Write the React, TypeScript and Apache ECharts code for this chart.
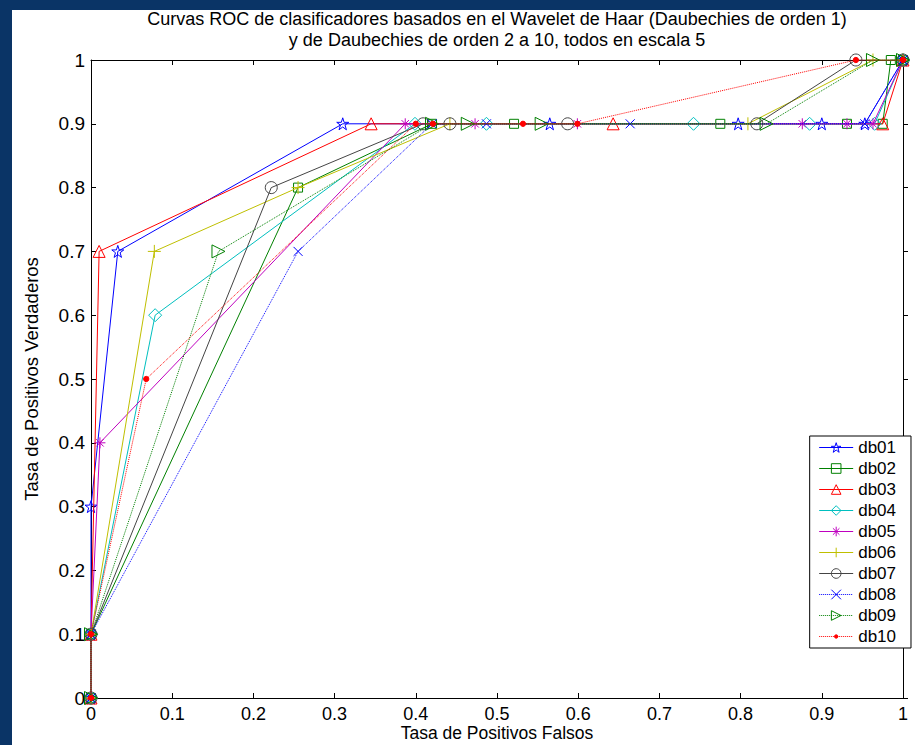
import React, { useEffect, useRef } from "react";
import * as echarts from "echarts";

const seriesNames = ["db01", "db02", "db03", "db04", "db05", "db06", "db07", "db08", "db09", "db10"];

const db01Fpr = [0, 0, 0, 0.033, 0.31, 0.565, 0.797, 0.9, 0.953, 1];
const db01Tpr = [0, 0.1, 0.3, 0.7, 0.9, 0.9, 0.9, 0.9, 0.9, 1];

const db02Fpr = [0, 0, 0.255, 0.42, 0.521, 0.775, 0.931, 0.975, 0.985, 1];
const db02Tpr = [0, 0.1, 0.8, 0.9, 0.9, 0.9, 0.9, 0.9, 1, 1];

const db03Fpr = [0, 0, 0.01, 0.345, 0.643, 0.975, 1];
const db03Tpr = [0, 0.1, 0.7, 0.9, 0.9, 0.9, 1];

const db04Fpr = [0, 0, 0.079, 0.399, 0.487, 0.742, 0.885, 0.965, 1];
const db04Tpr = [0, 0.1, 0.6, 0.9, 0.9, 0.9, 0.9, 0.9, 1];

const db05Fpr = [0, 0, 0.011, 0.387, 0.473, 0.599, 0.876, 0.931, 0.963, 1];
const db05Tpr = [0, 0.1, 0.4, 0.9, 0.9, 0.9, 0.9, 0.9, 0.9, 1];

const db06Fpr = [0, 0, 0.078, 0.255, 0.442, 0.809, 0.963, 1];
const db06Tpr = [0, 0.1, 0.7, 0.8, 0.9, 0.9, 1, 1];

const db07Fpr = [0, 0, 0.222, 0.409, 0.442, 0.587, 0.82, 0.942, 1];
const db07Tpr = [0, 0.1, 0.8, 0.9, 0.9, 0.9, 0.9, 1, 1];

const db08Fpr = [0, 0, 0.255, 0.42, 0.487, 0.664, 0.953, 1];
const db08Tpr = [0, 0.1, 0.7, 0.9, 0.9, 0.9, 0.9, 1];

const db09Fpr = [0, 0, 0.157, 0.42, 0.464, 0.555, 0.832, 0.963, 1];
const db09Tpr = [0, 0.1, 0.7, 0.9, 0.9, 0.9, 0.9, 1, 1];

const db10Fpr = [0, 0, 0.068, 0.4, 0.421, 0.532, 0.599, 0.942, 1];
const db10Tpr = [0, 0.1, 0.5, 0.9, 0.9, 0.9, 0.9, 1, 1];

const fprs = [db01Fpr, db02Fpr, db03Fpr, db04Fpr, db05Fpr, db06Fpr, db07Fpr, db08Fpr, db09Fpr, db10Fpr];
const tprs = [db01Tpr, db02Tpr, db03Tpr, db04Tpr, db05Tpr, db06Tpr, db07Tpr, db08Tpr, db09Tpr, db10Tpr];

const titleLines = [
  "Curvas ROC de clasificadores basados en el Wavelet de Haar (Daubechies de orden 1)",
  "y de Daubechies de orden 2 a 10, todos en escala 5",
];
const xAxisName = "Tasa de Positivos Falsos";
const yAxisName = "Tasa de Positivos Verdaderos";

const colors = ["#0000ff", "#008000", "#ff0000", "#00bfbf", "#bf00bf", "#bfbf00", "#444444", "#0000ff", "#008000", "#ff0000"];
const lineTypes = ["solid", "solid", "solid", "solid", "solid", "solid", "solid", "dotted", "dotted", "dotted"];

const STAR = "path://M50,2 L61,36 L97,36 L68,57 L79,92 L50,71 L21,92 L32,57 L3,36 L39,36 Z";
const PLUS = "path://M50,0L50,100M0,50L100,50";
const AST = "path://M50,0L50,100M0,50L100,50M16,16L84,84M84,16L16,84";
const XMARK = "path://M0,0L100,100M100,0L0,100";
const RTRI = "path://M0,0L100,50L0,100Z";
const DOT = "path://M0,0L0,0M100,100L100,100M68,50L63,63L50,68L37,63L32,50L37,37L50,32L63,37Z";
const symbols = [STAR, "rect", "triangle", "diamond", AST, PLUS, "circle", XMARK, RTRI, DOT];
const symbolSizes = [12, 9, 12, 13, 11, 13, 12, 9, 13, 15];

export default function App() {
  const ref = useRef<HTMLDivElement>(null);
  useEffect(() => {
    if (!ref.current) return;
    const chart = echarts.init(ref.current, undefined, { renderer: "svg" });
    const font = "Liberation Sans, Arial, sans-serif";
    const axisCommon = {
      type: "value" as const,
      min: 0,
      max: 1,
      interval: 0.1,
      splitLine: { show: false },
      axisLine: { show: true, onZero: false, lineStyle: { color: "#000", width: 1 } },
    };
    const itemStyleFor = (i: number) =>
      i === 9
        ? { color: colors[i], borderColor: colors[i], borderWidth: 1 }
        : { color: "rgba(255,255,255,0)", borderColor: colors[i], borderWidth: 1 };
    const series = seriesNames.map((name, i) => ({
      name,
      type: "line",
      xAxisIndex: 0,
      yAxisIndex: 0,
      data: fprs[i].map((x, j) => [x, tprs[i][j]]),
      symbol: symbols[i],
      symbolSize: symbolSizes[i],
      showAllSymbol: true,
      lineStyle: { color: colors[i], width: 1, type: lineTypes[i] },
      itemStyle: itemStyleFor(i),
      emphasis: { disabled: true },
      z: 2 + i,
    }));
    chart.setOption({
      animation: false,
      backgroundColor: "#ffffff",
      textStyle: { fontFamily: font },
      graphic: [
        { type: "rect", shape: { x: 0, y: 0, width: 915, height: 10 }, style: { fill: "#0a3466" }, z: -10, silent: true },
        { type: "rect", shape: { x: 0, y: 0, width: 12, height: 745 }, style: { fill: "#0a3466" }, z: -10, silent: true },
        {
          type: "text",
          x: 497,
          y: 8,
          style: {
            text: titleLines.join("\n"),
            fontSize: 18,
            fontFamily: font,
            fill: "#000",
            align: "center",
            lineHeight: 21,
          },
        },
      ],
      grid: { left: 91, right: 12, top: 60, bottom: 47, show: false, outerBoundsMode: "none", containLabel: false },
      legend: {
        orient: "vertical",
        right: 4,
        top: 436,
        data: seriesNames.map((name, i) => ({
          name,
          itemStyle: itemStyleFor(i),
          lineStyle: { color: colors[i], width: 1, type: lineTypes[i] },
        })),
        backgroundColor: "#ffffff",
        borderColor: "#000",
        borderWidth: 1,
        borderRadius: 0,
        padding: [2, 15, 2, 9],
        itemWidth: 34,
        itemHeight: 12,
        itemGap: 2,
        textStyle: { fontSize: 17, lineHeight: 19, color: "#000", fontFamily: font },
        selectedMode: false,
      },
      xAxis: [
        {
          ...axisCommon,
          position: "bottom",
          name: xAxisName,
          nameLocation: "middle",
          nameGap: 26,
          nameMoveOverlap: false,
          nameTextStyle: { fontSize: 17.5, lineHeight: 18, color: "#000", fontFamily: font },
          axisTick: { show: true, inside: true, length: 5, lineStyle: { color: "#000" } },
          axisLabel: { color: "#000", fontSize: 18, lineHeight: 17, margin: 7, fontFamily: font },
        },
        {
          ...axisCommon,
          position: "top",
          axisTick: { show: true, inside: true, length: 5, lineStyle: { color: "#000" } },
          axisLabel: { show: false },
        },
      ],
      yAxis: [
        {
          ...axisCommon,
          position: "left",
          name: yAxisName,
          nameLocation: "middle",
          nameGap: 50,
          nameMoveOverlap: false,
          nameTextStyle: { fontSize: 18.5, color: "#000", fontFamily: font },
          axisTick: { show: true, inside: true, length: 5, lineStyle: { color: "#000" } },
          axisLabel: { color: "#000", fontSize: 19, margin: 6, fontFamily: font },
        },
        {
          ...axisCommon,
          position: "right",
          axisTick: { show: true, inside: false, length: 5, lineStyle: { color: "#000" } },
          axisLabel: { show: false },
        },
      ],
      series,
    });
    return () => chart.dispose();
  }, []);
  return <div ref={ref} style={{ width: 915, height: 745, position: "absolute", left: 0, top: 0 }} />;
}
